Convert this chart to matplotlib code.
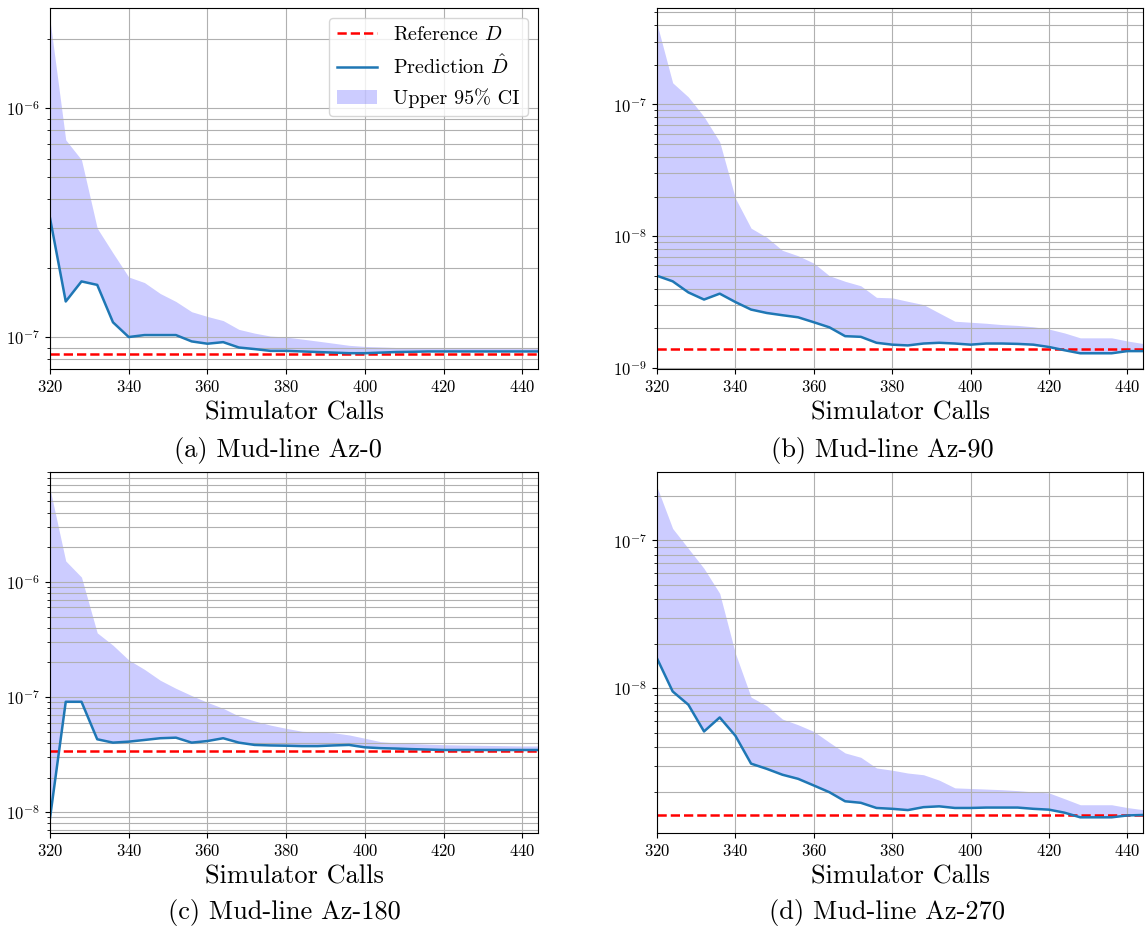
import numpy as np
import matplotlib
matplotlib.use("Agg")
import matplotlib.pyplot as plt

plt.rcParams['font.family'] = ['cmr10', 'DejaVu Serif']
plt.rcParams['mathtext.fontset'] = 'cm'
plt.rcParams['axes.formatter.use_mathtext'] = True
plt.rcParams['axes.unicode_minus'] = False

# simulator calls (shared x axis)
calls = np.arange(320, 445, 4)

# (a) Mud-line Az-0
pred_a = [3.31e-7, 1.43e-7, 1.75e-7, 1.69e-7, 1.16e-7, 1.0e-7, 1.02e-7, 1.02e-7,
          1.02e-7, 9.57e-8, 9.35e-8, 9.5e-8, 9.0e-8, 8.86e-8, 8.7e-8, 8.7e-8,
          8.65e-8, 8.6e-8, 8.55e-8, 8.5e-8, 8.5e-8, 8.55e-8, 8.6e-8, 8.62e-8,
          8.65e-8, 8.65e-8, 8.65e-8, 8.65e-8, 8.65e-8, 8.65e-8, 8.65e-8, 8.65e-8]
upper_a = [2.43e-6, 7.27e-7, 5.95e-7, 2.99e-7, 2.33e-7, 1.83e-7, 1.73e-7, 1.55e-7,
           1.43e-7, 1.29e-7, 1.23e-7, 1.18e-7, 1.08e-7, 1.04e-7, 1.01e-7, 1.0e-7,
           9.8e-8, 9.6e-8, 9.4e-8, 9.2e-8, 9.1e-8, 9.05e-8, 9.0e-8, 9.0e-8,
           9.0e-8, 9.0e-8, 9.0e-8, 9.0e-8, 9.0e-8, 9.0e-8, 9.0e-8, 9.0e-8]
ref_a = 8.46e-8

# (b) Mud-line Az-90
pred_b = [5.0e-9, 4.54e-9, 3.74e-9, 3.3e-9, 3.66e-9, 3.16e-9, 2.77e-9, 2.61e-9,
          2.51e-9, 2.42e-9, 2.22e-9, 2.03e-9, 1.74e-9, 1.72e-9, 1.55e-9, 1.5e-9,
          1.48e-9, 1.53e-9, 1.55e-9, 1.53e-9, 1.5e-9, 1.53e-9, 1.53e-9, 1.52e-9,
          1.5e-9, 1.44e-9, 1.36e-9, 1.29e-9, 1.29e-9, 1.29e-9, 1.34e-9, 1.34e-9]
upper_b = [4.1e-7, 1.46e-7, 1.14e-7, 8.07e-8, 5.2e-8, 1.94e-8, 1.15e-8, 9.8e-9,
           7.8e-9, 7.1e-9, 6.24e-9, 5.0e-9, 4.54e-9, 4.2e-9, 3.43e-9, 3.4e-9,
           3.2e-9, 3.02e-9, 2.61e-9, 2.26e-9, 2.22e-9, 2.18e-9, 2.13e-9, 2.1e-9,
           2.05e-9, 1.97e-9, 1.84e-9, 1.69e-9, 1.69e-9, 1.69e-9, 1.6e-9, 1.53e-9]
ref_b = 1.39e-9

# (c) Mud-line Az-180
pred_c = [8.9e-9, 9.1e-8, 9.1e-8, 4.3e-8, 4.02e-8, 4.1e-8, 4.24e-8, 4.39e-8,
          4.44e-8, 4.02e-8, 4.15e-8, 4.39e-8, 4.02e-8, 3.84e-8, 3.8e-8, 3.78e-8,
          3.75e-8, 3.75e-8, 3.8e-8, 3.84e-8, 3.66e-8, 3.6e-8, 3.57e-8, 3.53e-8,
          3.5e-8, 3.47e-8, 3.47e-8, 3.47e-8, 3.47e-8, 3.47e-8, 3.47e-8, 3.47e-8]
upper_c = [6.44e-6, 1.52e-6, 1.1e-6, 3.61e-7, 2.82e-7, 2.1e-7, 1.74e-7, 1.4e-7,
           1.19e-7, 1.03e-7, 9.0e-8, 7.98e-8, 6.84e-8, 6.2e-8, 5.71e-8, 5.35e-8,
           5.05e-8, 4.95e-8, 4.9e-8, 4.69e-8, 4.39e-8, 4.1e-8, 4.0e-8, 3.95e-8,
           3.9e-8, 3.86e-8, 3.84e-8, 3.82e-8, 3.8e-8, 3.78e-8, 3.76e-8, 3.76e-8]
ref_c = 3.4e-8

# (d) Mud-line Az-270
pred_d = [1.59e-8, 9.5e-9, 7.73e-9, 5.1e-9, 6.34e-9, 4.77e-9, 3.09e-9, 2.85e-9,
          2.6e-9, 2.44e-9, 2.2e-9, 1.98e-9, 1.72e-9, 1.68e-9, 1.55e-9, 1.53e-9,
          1.5e-9, 1.57e-9, 1.59e-9, 1.55e-9, 1.55e-9, 1.56e-9, 1.56e-9, 1.56e-9,
          1.53e-9, 1.51e-9, 1.44e-9, 1.34e-9, 1.34e-9, 1.34e-9, 1.38e-9, 1.39e-9]
upper_d = [2.29e-7, 1.2e-7, 8.79e-8, 6.44e-8, 4.37e-8, 1.72e-8, 8.7e-9, 7.6e-9,
           6.18e-9, 5.66e-9, 5.1e-9, 4.3e-9, 3.65e-9, 3.41e-9, 2.89e-9, 2.79e-9,
           2.67e-9, 2.6e-9, 2.39e-9, 2.12e-9, 2.1e-9, 2.08e-9, 2.06e-9, 2.03e-9,
           1.99e-9, 1.96e-9, 1.79e-9, 1.63e-9, 1.63e-9, 1.63e-9, 1.56e-9, 1.51e-9]
ref_d = 1.4e-9

captions = ['(a) Mud-line Az-0', '(b) Mud-line Az-90',
            '(c) Mud-line Az-180', '(d) Mud-line Az-270']
ylims = [(7.25e-8, 2.74e-6), (9.8e-10, 5.4e-7), (6.6e-9, 9.0e-6), (1.05e-9, 2.89e-7)]

panels = [(pred_a, upper_a, ref_a), (pred_b, upper_b, ref_b),
          (pred_c, upper_c, ref_c), (pred_d, upper_d, ref_d)]

fig = plt.figure(figsize=(11.46, 9.34), dpi=100)
W, H = 1146, 934
# axes boxes in pixels: left, top, right, bottom
boxes = [(50, 8, 538, 369), (657, 8, 1143, 369),
         (50, 472, 538, 833), (657, 472, 1143, 833)]
cap_pos = [(278, 450), (882, 450), (284, 912), (887, 912)]

for i, (pred, upper, ref) in enumerate(panels):
    l, t, r, b = boxes[i]
    ax = fig.add_axes([l / W, 1 - b / H, (r - l) / W, (b - t) / H])
    ax.axhline(ref, color='red', linestyle='--', linewidth=1.8, label='Reference $D$')
    ax.plot(calls, pred, color='tab:blue', linewidth=1.8, label=r'Prediction $\hat{D}$')
    ax.fill_between(calls, pred, upper, color='blue', alpha=0.2, linewidth=0,
                    label='Upper 95% CI')
    ax.set_yscale('log')
    ax.set_xlim(320, 444)
    ax.set_ylim(*ylims[i])
    ax.set_xticks([320, 340, 360, 380, 400, 420, 440])
    ax.tick_params(labelsize=12)
    ax.grid(True, which='both')
    ax.set_xlabel('Simulator Calls', fontsize=19, labelpad=4)
    if i == 0:
        ax.legend(loc='upper right', fontsize=14.5)
    cx, cy = cap_pos[i]
    fig.text(cx / W, 1 - cy / H, captions[i], fontsize=19, ha='center', va='center')

fig.savefig('out.png', dpi=100)
